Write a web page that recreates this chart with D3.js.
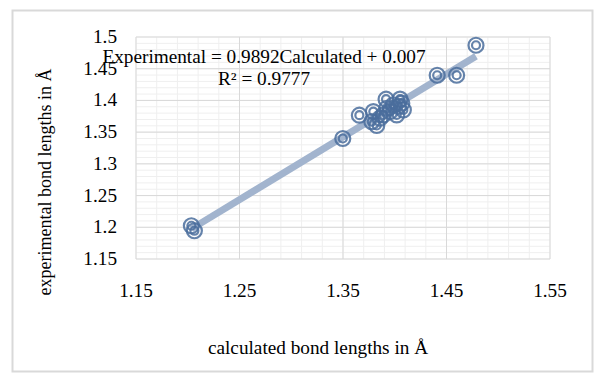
<!DOCTYPE html>
<html lang="en">
<head>
<meta charset="UTF-8">
<title>bond lengths</title>
<script src="https://cdnjs.cloudflare.com/ajax/libs/d3/7.8.5/d3.min.js"></script>
<style>
  body { margin: 0; background: #fff; }
  text { font-family: "Liberation Serif", "Times New Roman", serif; fill: #000; font-size: 18px; }
</style>
</head>
<body>
<svg id="chart" width="607" height="382"></svg>
<script>
  // calculated (x) vs experimental (y) bond lengths
  const calculated = [1.2035, 1.2064, 1.3498, 1.3658, 1.3793, 1.3778, 1.3826, 1.3916, 1.4051,
    1.4083, 1.3955, 1.389, 1.3987, 1.4035, 1.3923, 1.3858, 1.4019, 1.4068, 1.441, 1.4598, 1.4785];
  const experimental = [1.2024, 1.1945, 1.340, 1.3767, 1.3825, 1.3667, 1.3605, 1.4019, 1.402,
    1.385, 1.3825, 1.3772, 1.393, 1.3904, 1.3877, 1.372, 1.3772, 1.3956, 1.4397, 1.4397, 1.487];

  const xTicks = [1.15, 1.25, 1.35, 1.45, 1.55];
  const yTicks = [1.15, 1.2, 1.25, 1.3, 1.35, 1.4, 1.45, 1.5];
  const slope = 0.9892, intercept = 0.007;
  const trendRange = [1.2035, 1.4785];

  const svg = d3.select('#chart');
  const plotL = 136, plotR = 550, plotT = 37, plotB = 259;
  const stretch = 1.07; // the reference text is a little wider than the font

  const x = d3.scaleLinear().domain([1.15, 1.55]).range([plotL, plotR]);
  const y = d3.scaleLinear().domain([1.15, 1.5]).range([plotB, plotT]);

  // chart border
  svg.append('rect')
    .attr('x', 12.5).attr('y', 10.5)
    .attr('width', 580).attr('height', 361)
    .attr('fill', 'none').attr('stroke', '#d9d9d9').attr('stroke-width', 2);

  // minor gridlines
  const xMinor = d3.range(1.15, 1.5501, 0.02);
  const yMinor = d3.range(1.15, 1.5001, 0.01);
  svg.append('g').selectAll('line').data(xMinor).enter().append('line')
    .attr('x1', d => x(d)).attr('x2', d => x(d))
    .attr('y1', plotT).attr('y2', plotB)
    .attr('stroke', '#efefef').attr('stroke-width', 1);
  svg.append('g').selectAll('line').data(yMinor).enter().append('line')
    .attr('x1', plotL).attr('x2', plotR)
    .attr('y1', d => y(d)).attr('y2', d => y(d))
    .attr('stroke', '#efefef').attr('stroke-width', 1);

  // major gridlines
  svg.append('g').selectAll('line').data(xTicks).enter().append('line')
    .attr('x1', d => x(d)).attr('x2', d => x(d))
    .attr('y1', plotT).attr('y2', plotB)
    .attr('stroke', '#d9d9d9').attr('stroke-width', 1);
  svg.append('g').selectAll('line').data(yTicks).enter().append('line')
    .attr('x1', plotL).attr('x2', plotR)
    .attr('y1', d => y(d)).attr('y2', d => y(d))
    .attr('stroke', '#d9d9d9').attr('stroke-width', 1);

  // tick labels
  svg.append('g').selectAll('text').data(yTicks).enter().append('text')
    .attr('transform', d => `translate(117,${y(d) + 6}) scale(${stretch},1)`)
    .attr('text-anchor', 'end')
    .text(d => d);
  svg.append('g').selectAll('text').data(xTicks).enter().append('text')
    .attr('transform', d => `translate(${x(d)},297) scale(${stretch},1)`)
    .attr('text-anchor', 'middle')
    .text(d => d);

  // trendline
  svg.append('line')
    .attr('x1', x(trendRange[0])).attr('y1', y(slope * trendRange[0] + intercept))
    .attr('x2', x(trendRange[1])).attr('y2', y(slope * trendRange[1] + intercept))
    .attr('stroke', '#a2b4ce').attr('stroke-width', 7);

  // markers: double rings
  const pts = calculated.map((c, i) => ({ c: c, e: experimental[i] }));
  const marks = svg.append('g').selectAll('g').data(pts).enter().append('g')
    .attr('transform', d => `translate(${x(d.c)},${y(d.e)})`);
  marks.append('circle').attr('r', 7.5)
    .attr('fill', 'none').attr('stroke', '#4a6d9c').attr('stroke-width', 2.2).attr('stroke-opacity', 0.85);
  marks.append('circle').attr('r', 4)
    .attr('fill', 'none').attr('stroke', '#4a6d9c').attr('stroke-width', 2.2).attr('stroke-opacity', 0.85);

  // equation
  svg.append('text').attr('transform', `translate(264,63) scale(${stretch},1)`)
    .attr('text-anchor', 'middle')
    .text('Experimental = 0.9892Calculated + 0.007');
  svg.append('text').attr('transform', `translate(264,85) scale(${stretch},1)`)
    .attr('text-anchor', 'middle')
    .text('R² = 0.9777');

  // axis titles
  svg.append('text').attr('transform', `translate(318,354) scale(${stretch},1)`)
    .attr('text-anchor', 'middle')
    .text('calculated bond lengths in Å');
  svg.append('text')
    .attr('transform', 'translate(51,182) rotate(-90)')
    .attr('text-anchor', 'middle')
    .text('experimental bond lengths in Å');
</script>
</body>
</html>
